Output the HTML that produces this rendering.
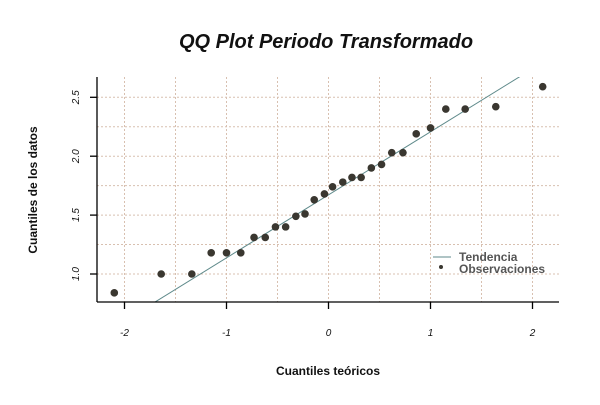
<!DOCTYPE html>
<html><head><meta charset="utf-8"><style>
body{margin:0;background:#fff;}
svg text{font-family:"Liberation Sans",sans-serif;}
</style></head><body>
<svg id="chart" width="600" height="400" viewBox="0 0 600 400" xmlns="http://www.w3.org/2000/svg">
<defs><clipPath id="clip"><rect x="97" y="77" width="462" height="225"/></clipPath></defs>
<text x="326" y="48" text-anchor="middle" font-size="20" font-weight="bold" font-style="italic" fill="#111">QQ Plot Periodo Transformado</text>
<g id="grid"></g>
<g id="marks"></g>
<line x1="97" y1="77" x2="97" y2="302" stroke="#000" stroke-width="1.3"/>
<line x1="97" y1="302" x2="559" y2="302" stroke="#000" stroke-width="1.3"/>
<g id="ticks"></g>
<text x="328" y="375" text-anchor="middle" font-size="12" font-weight="bold" fill="#111">Cuantiles teóricos</text>
<text transform="translate(37,190) rotate(-90)" text-anchor="middle" font-size="12" font-weight="bold" fill="#111">Cuantiles de los datos</text>
<g>
<line x1="433" y1="257" x2="451" y2="257" stroke="#5f8a8b" stroke-width="1"/>
<text x="459" y="261" font-size="12" font-weight="bold" fill="#555">Tendencia</text>
<circle cx="441" cy="267" r="2" fill="#3a3730"/>
<text x="459" y="273" font-size="12" font-weight="bold" fill="#555">Observaciones</text>
</g>
</svg>
<script>
const theoretical=[-2.1,-1.64,-1.34,-1.15,-1.0,-0.86,-0.73,-0.62,-0.52,-0.42,-0.32,-0.23,-0.14,-0.04,0.04,0.14,0.23,0.32,0.42,0.52,0.62,0.73,0.86,1.0,1.15,1.34,1.64,2.1];
const observed=[0.84,1.0,1.0,1.18,1.18,1.18,1.31,1.31,1.40,1.40,1.49,1.51,1.63,1.68,1.74,1.78,1.82,1.82,1.90,1.93,2.03,2.03,2.19,2.24,2.40,2.40,2.42,2.59];
const xTicks=[-2,-1,0,1,2];
const yTicks=[1.0,1.5,2.0,2.5];
const trendSlope=0.535, trendIntercept=1.672;
const NS="http://www.w3.org/2000/svg";
function sx(q){return 328.5+q*102;}
function sy(v){return 274-(v-1)*117.8;}
function mk(tag,attrs,parent){const e=document.createElementNS(NS,tag);for(const k in attrs)e.setAttribute(k,attrs[k]);parent.appendChild(e);return e;}
const grid=document.getElementById('grid'),marks=document.getElementById('marks'),ticks=document.getElementById('ticks');
for(let q=-2;q<=2.01;q+=0.5){const l=mk('line',{x1:sx(q),x2:sx(q),y1:77,y2:302,stroke:'#d8c0b0','stroke-dasharray':'2,2'},grid);

}
for(let v=0.75;v<=2.6;v+=0.25){const y=sy(v);if(y<77||y>302)continue;const l=mk('line',{x1:97,x2:559,y1:y,y2:y,stroke:'#d8c0b0','stroke-dasharray':'2,2'},grid);

}
const g=mk('g',{'clip-path':'url(#clip)'},marks);
const tl=mk('line',{x1:sx(-2.5),y1:sy(trendIntercept-2.5*trendSlope),x2:sx(2.5),y2:sy(trendIntercept+2.5*trendSlope),stroke:'#5f8a8b','stroke-width':1},g);


theoretical.forEach((q,i)=>{const c=mk('circle',{cx:sx(q),cy:sy(observed[i]),r:3.8,fill:'#3a3730'},marks);

});
xTicks.forEach(t=>{const l=mk('line',{x1:sx(t),x2:sx(t),y1:302,y2:309,stroke:'#000','stroke-width':1.3},ticks);


const tx=mk('text',{x:sx(t),y:336,'text-anchor':'middle','font-size':10,'font-style':'italic',fill:'#111'},ticks);tx.textContent=t;

});
yTicks.forEach(t=>{const l=mk('line',{x1:90,x2:97,y1:sy(t),y2:sy(t),stroke:'#000','stroke-width':1.3},ticks);


const tx=mk('text',{transform:`translate(79,${sy(t)}) rotate(-90)`,'text-anchor':'middle','font-size':10,'font-style':'italic',fill:'#111'},ticks);tx.textContent=t.toFixed(1);

});
</script>
</body></html>
